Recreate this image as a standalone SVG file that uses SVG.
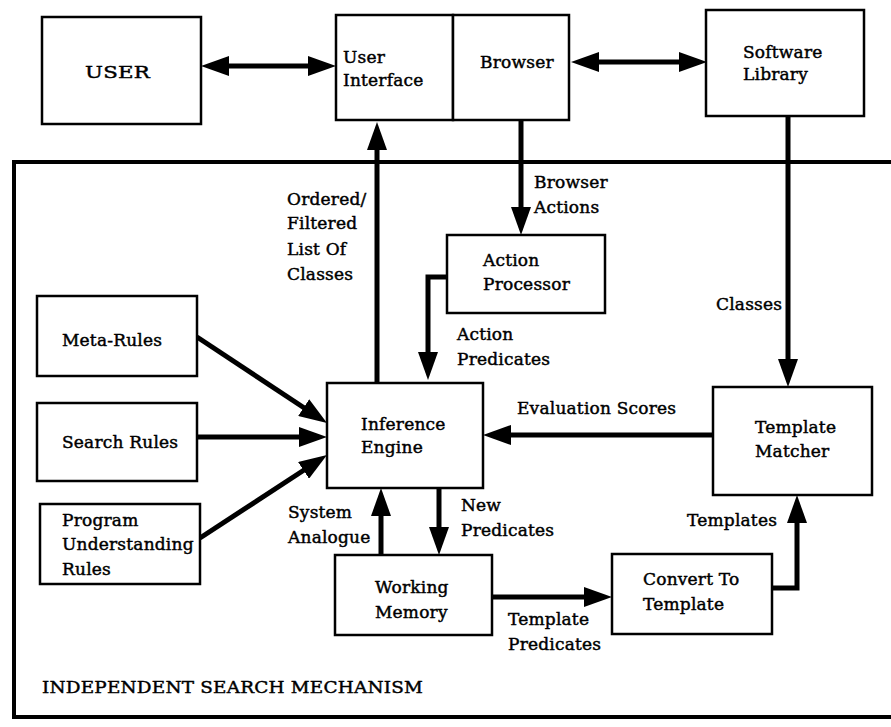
<svg xmlns="http://www.w3.org/2000/svg" width="891" height="727" viewBox="0 0 891 727">
  <style>
    .box { fill: #fff; stroke: #000; stroke-width: 2.5; }
    .frame { fill: none; stroke: #000; stroke-width: 4; }
    .conn { fill: none; stroke: #000; stroke-width: 5; }
    .t { font-family: "DejaVu Serif", "Liberation Serif", serif; font-size: 17px; letter-spacing: 0.2px; fill: #000; stroke: #000; stroke-width: 0.45px; }
  </style>
  <defs>
    <marker id="head" markerUnits="userSpaceOnUse" markerWidth="28" markerHeight="20" viewBox="0 0 28 20" refX="18" refY="10" orient="auto-start-reverse">
      <path d="M0,0 L28,10 L0,20 z" fill="#000"/>
    </marker>
  </defs>
  <rect width="891" height="727" fill="#fff"/>

  <!-- boundary of the search mechanism (open on the right) -->
  <g id="search-mechanism">
    <path class="frame" d="M891,162 H14 V717 H891"/>
    <text class="t" x="42" y="693" textLength="381" lengthAdjust="spacingAndGlyphs">INDEPENDENT SEARCH MECHANISM</text>
  </g>

  <!-- connectors -->
  <g id="connectors">
    <line class="conn" x1="211" y1="66" x2="326" y2="66" marker-start="url(#head)" marker-end="url(#head)"/>
    <line class="conn" x1="581" y1="62" x2="697" y2="62" marker-start="url(#head)" marker-end="url(#head)"/>
    <line class="conn" x1="377" y1="383" x2="377" y2="132" marker-end="url(#head)"/>
    <line class="conn" x1="521" y1="120" x2="521" y2="225" marker-end="url(#head)"/>
    <line class="conn" x1="788" y1="116" x2="788" y2="377" marker-end="url(#head)"/>
    <path class="conn" d="M447,277 H428 V370" marker-end="url(#head)"/>
    <line class="conn" x1="197" y1="337" x2="318.7" y2="417.5" marker-end="url(#head)"/>
    <line class="conn" x1="197" y1="437" x2="317" y2="437" marker-end="url(#head)"/>
    <line class="conn" x1="200" y1="538" x2="318.6" y2="460.5" marker-end="url(#head)"/>
    <line class="conn" x1="713" y1="435" x2="493" y2="435" marker-end="url(#head)"/>
    <line class="conn" x1="381" y1="555" x2="381" y2="498" marker-end="url(#head)"/>
    <line class="conn" x1="439" y1="488" x2="439" y2="545" marker-end="url(#head)"/>
    <line class="conn" x1="492" y1="597" x2="602" y2="597" marker-end="url(#head)"/>
    <path class="conn" d="M772,588 H797 V505" marker-end="url(#head)"/>

    <!-- connector labels -->
    <text class="t" x="287" y="205">Ordered/</text>
    <text class="t" x="287" y="229">Filtered</text>
    <text class="t" x="287" y="255">List Of</text>
    <text class="t" x="287" y="280">Classes</text>
    <text class="t" x="534" y="188">Browser</text>
    <text class="t" x="534" y="213">Actions</text>
    <text class="t" x="716" y="310">Classes</text>
    <text class="t" x="457" y="340">Action</text>
    <text class="t" x="457" y="365">Predicates</text>
    <text class="t" x="517" y="414">Evaluation Scores</text>
    <text class="t" x="288" y="518">System</text>
    <text class="t" x="288" y="543">Analogue</text>
    <text class="t" x="461" y="511">New</text>
    <text class="t" x="461" y="536">Predicates</text>
    <text class="t" x="508" y="625">Template</text>
    <text class="t" x="508" y="650">Predicates</text>
    <text class="t" x="687" y="526">Templates</text>
  </g>

  <!-- nodes -->
  <g id="user">
    <rect class="box" x="42" y="17" width="159" height="107"/>
    <text class="t" x="85" y="78" textLength="65" lengthAdjust="spacingAndGlyphs">USER</text>
  </g>
  <g id="user-interface">
    <rect class="box" x="336" y="15" width="117" height="105"/>
    <text class="t" x="343" y="63">User</text>
    <text class="t" x="343" y="86">Interface</text>
  </g>
  <g id="browser">
    <rect class="box" x="453" y="15" width="116" height="105"/>
    <text class="t" x="480" y="68">Browser</text>
  </g>
  <g id="software-library">
    <rect class="box" x="706" y="10" width="158" height="106"/>
    <text class="t" x="743" y="58">Software</text>
    <text class="t" x="743" y="80">Library</text>
  </g>
  <g id="action-processor">
    <rect class="box" x="447" y="235" width="158" height="78"/>
    <text class="t" x="483" y="266">Action</text>
    <text class="t" x="483" y="290">Processor</text>
  </g>
  <g id="meta-rules">
    <rect class="box" x="37" y="296" width="160" height="80"/>
    <text class="t" x="62" y="346">Meta-Rules</text>
  </g>
  <g id="search-rules">
    <rect class="box" x="37" y="403" width="160" height="78"/>
    <text class="t" x="62" y="448">Search Rules</text>
  </g>
  <g id="program-understanding-rules">
    <rect class="box" x="40" y="504" width="160" height="80"/>
    <text class="t" x="62" y="526">Program</text>
    <text class="t" x="62" y="550">Understanding</text>
    <text class="t" x="62" y="575">Rules</text>
  </g>
  <g id="inference-engine">
    <rect class="box" x="327" y="383" width="156" height="105"/>
    <text class="t" x="361" y="430">Inference</text>
    <text class="t" x="361" y="453">Engine</text>
  </g>
  <g id="template-matcher">
    <rect class="box" x="713" y="387" width="159" height="108"/>
    <text class="t" x="755" y="433">Template</text>
    <text class="t" x="755" y="457">Matcher</text>
  </g>
  <g id="working-memory">
    <rect class="box" x="335" y="555" width="157" height="80"/>
    <text class="t" x="375" y="593">Working</text>
    <text class="t" x="375" y="618">Memory</text>
  </g>
  <g id="convert-to-template">
    <rect class="box" x="612" y="554" width="160" height="80"/>
    <text class="t" x="643" y="585">Convert To</text>
    <text class="t" x="643" y="610">Template</text>
  </g>
</svg>
